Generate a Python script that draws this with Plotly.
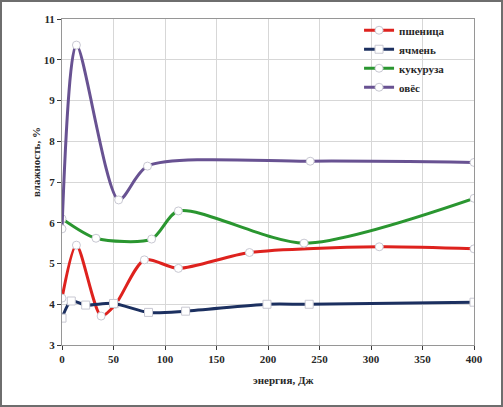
import plotly.graph_objects as go

# энергия, Дж / влажность, %
wheat_x = [0, 14, 38, 52, 80, 113, 182, 308, 400]
wheat_y = [4.15, 5.45, 3.71, 4.0, 5.09, 4.88, 5.27, 5.41, 5.36]

barley_x = [0, 9, 23, 50, 84, 120, 199, 240, 400]
barley_y = [3.66, 4.08, 3.98, 4.02, 3.8, 3.83, 4.0, 4.0, 4.05]

corn_x = [0, 33, 87, 113, 235, 400]
corn_y = [6.1, 5.62, 5.6, 6.29, 5.5, 6.6]

oats_x = [0, 14, 55, 83, 241, 400]
oats_y = [5.85, 10.36, 6.56, 7.39, 7.51, 7.48]

series = [
    ("пшеница", wheat_x, wheat_y, "rgb(222,34,30)", "circle"),
    ("ячмень", barley_x, barley_y, "rgb(28,48,96)", "square"),
    ("кукуруза", corn_x, corn_y, "rgb(42,150,48)", "circle"),
    ("овёс", oats_x, oats_y, "rgb(104,82,146)", "circle"),
]

serif = "Liberation Serif"
W, H = 503, 407
L, R, T, B = 62, 29, 19, 62
pw, ph = W - L - R, H - T - B

fig = go.Figure()
for name, xs, ys, color, sym in series:
    fig.add_trace(go.Scatter(
        x=xs, y=ys, name="<b>" + name + "</b>", mode="lines+markers",
        line=dict(color=color, width=3, shape="spline", smoothing=0.75),
        marker=dict(symbol=sym, size=8, color="white", line=dict(color="rgb(200,200,210)", width=1)),
    ))

fig.update_layout(
    width=W, height=H,
    margin=dict(l=L, r=R, t=T, b=B),
    paper_bgcolor="white", plot_bgcolor="white",
    font=dict(family=serif, size=11, color="rgb(40,40,40)"),
    showlegend=True,
    legend=dict(x=0.721, y=1.01, xanchor="left", yanchor="top", itemwidth=30,
                bgcolor="rgba(0,0,0,0)", font=dict(family=serif, size=11, color="rgb(40,40,40)"),
                tracegroupgap=0),
)
axis_common = dict(
    showgrid=True, gridcolor="rgb(215,215,215)", gridwidth=1,
    showline=True, linecolor="rgb(150,150,150)", linewidth=1, mirror=True,
    ticks="outside", ticklen=4, tickcolor="rgb(60,60,60)", zeroline=False,
    tickfont=dict(family=serif, size=11, color="rgb(40,40,40)"),
    tickprefix="<b>", ticksuffix="</b>", automargin=False,
)
fig.update_xaxes(range=[0, 400], dtick=50, **axis_common)
fig.update_yaxes(range=[3, 11], dtick=1, **axis_common)

# axis titles
fig.add_annotation(text="<b>энергия, Дж</b>", xref="paper", yref="paper",
                   x=(283 - L) / pw, y=-(388 - T - ph) / ph, showarrow=False,
                   font=dict(family=serif, size=11, color="rgb(40,40,40)"))
fig.add_annotation(text="<b>влажность, %</b>", xref="paper", yref="paper",
                   x=-(L - 28) / pw, y=1 - (162 - T) / ph, showarrow=False, textangle=-90,
                   font=dict(family=serif, size=11, color="rgb(40,40,40)"))

# outer frame of the picture
fig.add_shape(type="rect", xref="paper", yref="paper",
              x0=-(L - 1) / pw, x1=1 + (R - 1) / pw, y0=-(B - 1) / ph, y1=1 + (T - 1) / ph,
              line=dict(color="rgb(110,110,110)", width=2), layer="above")

# page body has a default 8px margin; drop it so the figure sits at 0,0
fig.write_html("out.html", config={"displayModeBar": False},
               post_script="document.body.style.margin='0px';")
